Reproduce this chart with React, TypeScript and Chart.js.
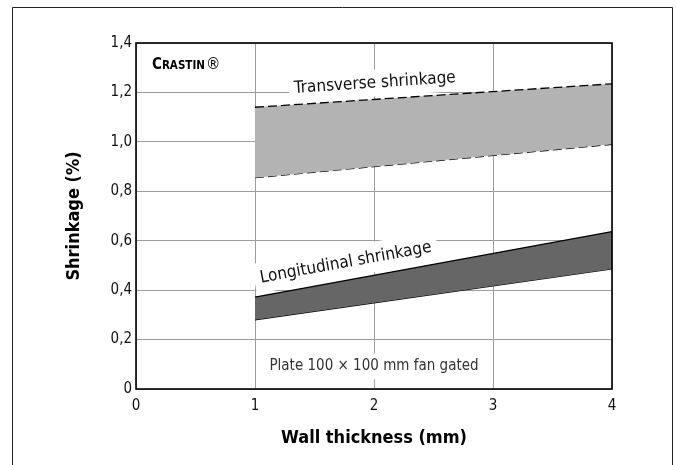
import React, { useEffect, useRef } from 'react';
import { Chart, registerables } from 'chart.js';

Chart.register(...registerables);

// ---- data ----
const thickness = [1, 4];
const transverseUpper = [1.14, 1.235];
const transverseLower = [0.855, 0.99];
const longitudinalUpper = [0.372, 0.637];
const longitudinalLower = [0.28, 0.486];

const xMin = 0;
const xMax = 4;
const yMin = 0;
const yMax = 1.4;

const xTitle = 'Wall thickness (mm)';
const yTitle = 'Shrinkage (%)';
const labelTransverse = 'Transverse shrinkage';
const labelLongitudinal = 'Longitudinal shrinkage';
const labelPlate = 'Plate 100 × 100 mm fan gated';
const brandParts = ['C', 'RASTIN', '®'];

const FONT = "'Liberation Sans Narrow', 'DejaVu Sans Condensed', 'Liberation Sans', sans-serif";

function pts(vals: number[]) {
  return thickness.map((t, i) => ({ x: t, y: vals[i] }));
}

function boxedText(
  ctx: CanvasRenderingContext2D,
  text: string,
  px: number,
  py: number,
  angleDeg: number,
  font: string,
  color: string,
  align: 'left' | 'center',
  padX: number,
  padTop: number,
  padBottom: number
) {
  ctx.save();
  ctx.translate(px, py);
  ctx.rotate((angleDeg * Math.PI) / 180);
  ctx.font = font;
  const m = ctx.measureText(text);
  const w = m.width;
  const asc = m.actualBoundingBoxAscent;
  const desc = m.actualBoundingBoxDescent;
  const x0 = align === 'center' ? -w / 2 : 0;
  ctx.fillStyle = '#ffffff';
  ctx.fillRect(x0 - padX, -asc - padTop, w + 2 * padX, asc + desc + padTop + padBottom);
  ctx.fillStyle = color;
  ctx.textAlign = 'left';
  ctx.textBaseline = 'alphabetic';
  ctx.fillText(text, x0, 0);
  ctx.restore();
}

const decorPlugin = {
  id: 'decor',
  beforeDatasetsDraw(chart: any) {
    const { ctx, scales } = chart;
    const x = scales.x;
    const y = scales.y;
    boxedText(ctx, labelTransverse, x.getPixelForValue(1.33), y.getPixelForValue(1.198), -3.8,
      '17px ' + FONT, '#111', 'left', 5, 4, 5);
    boxedText(ctx, labelLongitudinal, x.getPixelForValue(1.05), y.getPixelForValue(0.43), -10.3,
      '17px ' + FONT, '#111', 'left', 6, 6, 6);
    boxedText(ctx, labelPlate, x.getPixelForValue(2), y.getPixelForValue(0.075), 0,
      '15px ' + FONT, '#333', 'center', 4, 5, 6);
  },
  afterDatasetsDraw(chart: any) {
    const { ctx, chartArea } = chart;
    const { left, right, top, bottom } = chartArea;
    ctx.save();
    ctx.strokeStyle = '#000';
    ctx.lineWidth = 1.6;
    ctx.strokeRect(left, top, right - left, bottom - top);
    ctx.restore();
  },
  afterDraw(chart: any) {
    const { ctx, chartArea, width, height } = chart;
    const { left, right, top, bottom } = chartArea;
    ctx.save();
    // outer frame
    ctx.strokeStyle = '#222';
    ctx.lineWidth = 1;
    ctx.beginPath();
    ctx.moveTo(12.5, height);
    ctx.lineTo(12.5, 7.5);
    ctx.lineTo(width - 3.5, 7.5);
    ctx.lineTo(width - 3.5, height);
    ctx.stroke();

    // axis titles
    ctx.fillStyle = '#000';
    ctx.font = 'bold 18px ' + FONT;
    ctx.textAlign = 'center';
    ctx.textBaseline = 'middle';
    ctx.fillText(xTitle, (left + right) / 2, 438);
    ctx.save();
    ctx.translate(74, (top + bottom) / 2);
    ctx.rotate(-Math.PI / 2);
    ctx.fillText(yTitle, 0, 0);
    ctx.restore();

    // brand (small caps)
    let bx = left + 16;
    const by = 68.5;
    ctx.textAlign = 'left';
    ctx.textBaseline = 'alphabetic';
    ctx.font = 'bold 15px ' + FONT;
    ctx.fillText(brandParts[0], bx, by);
    bx += ctx.measureText(brandParts[0]).width;
    ctx.font = 'bold 11.5px ' + FONT;
    ctx.fillText(brandParts[1], bx, by);
    bx += ctx.measureText(brandParts[1]).width + 1;
    ctx.font = '16px ' + FONT;
    ctx.fillText(brandParts[2], bx, by);
    ctx.restore();
  },
};

export default function App() {
  const ref = useRef<HTMLCanvasElement | null>(null);

  useEffect(() => {
    const canvas = ref.current;
    if (!canvas) return;
    const chart = new Chart(canvas, {
      type: 'line',
      data: {
        datasets: [
          {
            label: 'Transverse upper',
            data: pts(transverseUpper),
            borderColor: '#000',
            borderWidth: 1.3,
            borderDash: [9, 4],
            pointRadius: 0,
            fill: '+1',
            backgroundColor: '#b3b3b3',
          },
          {
            label: 'Transverse lower',
            data: pts(transverseLower),
            borderColor: '#000',
            borderWidth: 1.3,
            borderDash: [9, 4],
            pointRadius: 0,
            fill: false,
          },
          {
            label: 'Longitudinal upper',
            data: pts(longitudinalUpper),
            borderColor: '#000',
            borderWidth: 1.3,
            pointRadius: 0,
            fill: '+1',
            backgroundColor: '#666666',
          },
          {
            label: 'Longitudinal lower',
            data: pts(longitudinalLower),
            borderColor: '#000',
            borderWidth: 1.3,
            pointRadius: 0,
            fill: false,
          },
        ],
      },
      options: {
        responsive: false,
        animation: false,
        events: [],
        layout: { padding: { left: 0, top: 43, right: 64, bottom: 0 } },
        plugins: {
          legend: { display: false },
          tooltip: { enabled: false },
          title: { display: false },
        },
        scales: {
          x: {
            type: 'linear',
            min: xMin,
            max: xMax,
            border: { display: false },
            grid: { color: '#9c9c9c', lineWidth: 1, drawTicks: false },
            ticks: {
              stepSize: 1,
              padding: 8,
              color: '#111',
              font: { family: FONT, size: 15 },
              callback: (v: any) => String(v),
            },
            afterFit: (s: any) => {
              s.height = 76;
            },
          },
          y: {
            type: 'linear',
            min: yMin,
            max: yMax,
            border: { display: false },
            grid: { color: '#9c9c9c', lineWidth: 1, drawTicks: false },
            ticks: {
              stepSize: 0.2,
              padding: 4,
              color: '#111',
              font: { family: FONT, size: 15 },
              callback: (v: any) => (Number(v) === 0 ? '0' : Number(v).toFixed(1).replace('.', ',')),
            },
            afterFit: (s: any) => {
              s.width = 136;
            },
          },
        },
      },
      plugins: [decorPlugin],
    } as any);
    return () => chart.destroy();
  }, []);

  return (
    <div style={{ position: 'fixed', left: 0, top: 0, width: 676, height: 465, background: '#fff' }}>
      <canvas ref={ref} width={676} height={465} style={{ display: 'block' }} />
    </div>
  );
}
